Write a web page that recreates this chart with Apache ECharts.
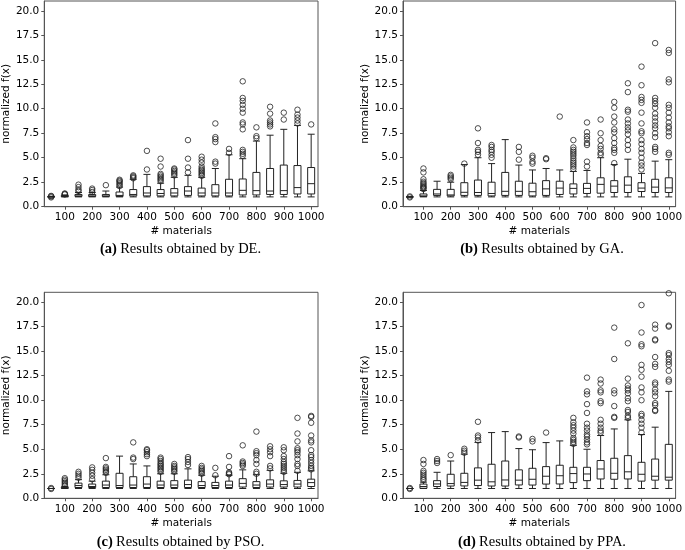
<!DOCTYPE html>
<html>
<head>
<meta charset="utf-8">
<script src="https://cdn.jsdelivr.net/npm/echarts@6/dist/echarts.min.js"></script>
<style>html,body{margin:0;padding:0;background:#fff}#c{width:685px;height:550px}</style>
</head>
<body>
<div id="c"></div>
<script>
const categories = ['50','100','150','200','250','300','350','400','450','500','550','600','650','700','750','800','850','900','950','1000'];
const yTicks = [0, 2.5, 5, 7.5, 10, 12.5, 15, 17.5, 20];

// [lower whisker, Q1, median, Q3, upper whisker]
const deBoxes = [
  [1.0,1.0,1.0,1.02,1.05],[1.0,1.03,1.08,1.15,1.2],[1.0,1.05,1.1,1.25,1.45],[1.0,1.05,1.1,1.25,1.45],
  [1.0,1.05,1.1,1.25,1.6],[1.0,1.05,1.15,1.5,2.0],[1.0,1.1,1.25,1.75,2.8],[1.0,1.1,1.4,2.05,3.3],
  [1.0,1.1,1.35,1.75,2.4],[1.0,1.1,1.4,1.85,3.0],[1.0,1.15,1.6,2.05,3.2],[1.0,1.1,1.4,1.9,3.0],
  [1.0,1.1,1.4,2.25,3.9],[1.0,1.1,1.4,2.8,5.3],[1.0,1.2,1.67,2.83,4.9],[1.0,1.2,1.64,3.5,6.7],
  [1.0,1.25,1.6,3.9,7.3],[1.0,1.25,1.64,4.25,7.9],[1.0,1.3,1.95,4.2,8.3],[1.0,1.3,2.35,4.0,7.4]
];
const deOutliers = [
  [0.95,1.05,1.1],[1.25,1.3,1.35],[1.6,1.75,2.0,2.25],[1.5,1.7,1.85],[2.2],
  [2.1,2.25,2.4,2.55,2.65,2.75],[2.9,3.0,3.1,3.2],[3.8,5.7],[2.6,2.75,2.9,3.05,3.2,3.35,4.1,4.9],
  [3.2,3.35,3.5,3.65,3.8,3.9],[3.5,4.0,4.9,6.8],[3.15,3.3,3.45,3.6,3.75,3.9,4.1,4.5,4.8,5.1],
  [4.4,4.6,6.6,6.9,7.1,8.5],[5.5,5.9],[5.2,5.4,5.6,5.8,7.9,8.4,8.6,9.6,10.0,10.4,10.8,11.1,12.8],
  [7.0,7.2,8.1],[8.2,8.4,8.6,8.8,9.5,10.2],[8.9,9.6],[8.5,8.8,9.1,9.4,9.9],[8.4]
];

const gaBoxes = [
  [1.0,1.0,1.0,1.0,1.0],[1.0,1.05,1.1,1.3,1.65],[1.0,1.15,1.3,1.77,2.6],[1.0,1.1,1.2,1.77,2.5],
  [1.0,1.15,1.47,2.45,4.3],[1.0,1.15,1.45,2.72,5.0],[1.0,1.1,1.35,2.5,4.4],[1.0,1.15,1.57,3.5,6.85],
  [1.0,1.15,1.57,2.6,4.25],[1.0,1.1,1.53,2.4,3.75],[1.0,1.15,1.82,2.66,3.9],[1.0,1.25,1.9,2.6,3.75],
  [1.0,1.3,1.87,2.33,3.6],[1.0,1.35,1.87,2.38,3.7],[1.0,1.38,2.28,2.95,5.0],[1.0,1.45,2.1,2.66,4.3],
  [1.0,1.45,2.2,3.05,4.85],[1.0,1.55,1.9,2.45,3.4],[1.0,1.45,2.0,2.8,4.65],[1.0,1.45,1.92,2.95,4.8]
];
const gaOutliers = [
  [0.95,1.05],[1.8,1.9,2.0,2.1,2.25,2.4,2.55,2.8,3.5,3.9],[],[2.8,2.95,3.1,3.25],[4.4],
  [5.3,5.6,5.8,6.5,8.0],[5.0,5.3,5.6,5.8,6.1,6.3],[],[4.8,5.6,6.1],[4.4,4.6,5.0,5.2],[4.85,4.95],[9.2],
  [3.85,4.1,4.3,4.5,4.7,4.95,5.2,5.4,5.6,5.8,6.05,6.8],[4.1,4.6,6.3,6.5,6.9,7.2,7.6,8.6],
  [5.3,5.5,5.9,6.2,6.8,7.5,8.9],[4.45,5.5,5.8,6.0,6.5,7.0,7.6,7.9,8.6,9.2,10.1,10.7],
  [5.8,6.3,6.8,7.4,7.8,8.1,8.5,8.9,9.7,9.9,11.7,12.6],
  [3.8,4.2,4.5,5.0,5.5,5.9,6.4,6.8,7.5,7.7,8.5,9.6,10.6,10.9,11.2,12.4,14.3],
  [5.6,5.9,6.1,7.1,7.5,8.0,8.3,8.7,9.1,9.5,10.1,10.5,10.8,11.1,16.7],
  [5.3,5.5,7.2,7.6,8.0,8.2,8.6,9.1,9.6,10.1,10.4,12.7,13.0,15.7,16.0]
];

const psoBoxes = [
  [1.0,1.0,1.0,1.0,1.0],[1.0,1.03,1.05,1.12,1.2],[1.0,1.1,1.3,1.55,1.9],[1.0,1.1,1.2,1.45,1.75],
  [1.0,1.1,1.35,1.75,2.4],[1.0,1.1,1.3,2.55,4.3],[1.0,1.1,1.35,2.2,3.5],[1.0,1.1,1.45,2.2,3.3],
  [1.0,1.1,1.35,1.75,2.5],[1.0,1.1,1.35,1.8,2.5],[1.0,1.1,1.4,1.85,3.0],[1.0,1.1,1.3,1.7,2.35],
  [1.0,1.1,1.3,1.62,2.25],[1.0,1.1,1.35,1.75,2.35],[1.0,1.15,1.52,2.0,2.9],[1.0,1.1,1.35,1.7,2.4],
  [1.0,1.15,1.45,1.88,2.85],[1.0,1.15,1.4,1.78,2.55],[1.0,1.15,1.45,1.82,2.65],[1.0,1.2,1.6,1.95,2.8]
];
const psoOutliers = [
  [0.95,1.05],[1.3,1.45,1.6,1.75,1.9,2.05],[2.1,2.3,2.5,2.7],[1.95,2.3,2.6,2.9,3.15],
  [2.6,2.75,2.9,3.05,3.2,4.1],[],[4.0,4.15,5.7],[4.3,4.5,4.7,4.9,5.0],
  [2.7,2.85,3.0,3.15,3.3,3.45,3.6,3.8,4.0,4.15],[2.7,2.85,3.0,3.15,3.3,3.5],[3.4,3.7,4.0,4.2],
  [2.5,2.65,2.8,2.95,3.1,3.3],[2.35,3.1],[2.45,2.55,2.65,3.2,4.3],[3.3,3.45,3.6,3.75,5.4],
  [2.5,2.7,3.5,3.9,4.4,4.6,4.8,6.8],[3.05,3.3,4.3,4.7,5.0,5.3],
  [2.7,2.9,3.1,3.3,3.5,3.7,4.0,4.3,4.9,5.2],[2.8,3.3,3.5,4.0,4.4,4.7,4.9,5.1,5.8,6.6,8.2],
  [2.95,3.1,3.3,3.6,3.9,4.2,4.4,4.9,5.7,5.9,6.4,7.7,8.3,8.4]
];

const ppaBoxes = [
  [1.0,1.0,1.0,1.0,1.0],[1.0,1.02,1.2,1.45,1.65],[1.0,1.2,1.46,1.8,2.65],[1.0,1.25,1.5,2.45,3.8],
  [1.0,1.26,1.62,2.55,4.5],[1.0,1.3,1.85,3.1,5.7],[1.0,1.25,1.68,3.47,6.7],[1.0,1.25,1.87,3.8,6.8],
  [1.0,1.36,1.85,2.9,5.07],[1.0,1.35,1.94,3.06,4.95],[1.0,1.45,2.25,3.23,5.68],[1.0,1.46,2.3,3.37,5.85],
  [1.0,1.6,2.52,3.16,5.4],[1.0,1.8,2.48,3.16,5.0],[1.0,1.97,2.99,3.85,6.4],[1.0,1.94,2.55,4.08,7.07],
  [1.0,1.97,2.7,4.35,8.0],[1.0,1.75,2.45,3.67,6.5],[1.0,1.85,2.25,4.0,7.25],[1.0,1.85,2.15,5.5,10.9]
];
const ppaOutliers = [
  [0.95,1.05],[1.85,2.0,2.2,2.4,2.6,2.8,3.5,3.9],[3.6,3.8,4.0],[4.4],[4.65,4.85,5.05],
  [5.9,6.2,6.4,7.8],[],[],[6.2,6.3],[5.8,6.05],[6.7],[],
  [5.55,5.75,5.95,6.15,6.6,6.9,7.2,7.45,7.75,8.2],
  [5.5,5.7,6.0,6.3,6.5,6.9,7.2,7.6,8.7,9.6,10.6,10.9,12.3],
  [6.7,6.9,7.2,7.6,8.0,9.7,9.9,10.8,11.0,11.7,12.1],
  [8.2,8.3,9.4,10.7,11.0,14.2,17.4],
  [8.2,8.4,8.8,9.0,9.9,10.2,10.7,11.0,11.2,11.5,12.2,15.8],
  [6.7,7.2,7.6,8.0,8.4,8.6,10.0,10.8,11.3,12.4,13.1,13.6,15.5,15.7,16.9,19.7],
  [8.9,9.0,9.5,9.7,10.4,10.8,11.1,11.6,11.8,13.4,13.7,14.4,16.1,16.2,17.3,17.7],
  [11.9,12.1,13.0,13.6,13.9,14.2,14.6,14.8,17.5,17.6,20.9]
];

const captions = [
  ['(a)', 'Results obtained by DE.'],
  ['(b)', 'Results obtained by GA.'],
  ['(c)', 'Results obtained by PSO.'],
  ['(d)', 'Results obtained by PPA.']
];

const panels = [
  {boxes: deBoxes, outliers: deOutliers, grid: {left: 43, top: 1, width: 275, height: 205.7}},
  {boxes: gaBoxes, outliers: gaOutliers, grid: {left: 403, top: 1, width: 278, height: 205.7}},
  {boxes: psoBoxes, outliers: psoOutliers, grid: {left: 43, top: 292.3, width: 275, height: 206}},
  {boxes: ppaBoxes, outliers: ppaOutliers, grid: {left: 403, top: 292.3, width: 278, height: 206}}
];

const FONT = 'DejaVu Sans';
const AX = '#555';
const grids = [], xAxes = [], yAxes = [], series = [], graphics = [];
const oddOnly = (i) => i % 2 === 1;

panels.forEach((p, k) => {
  grids.push(Object.assign({show: true, borderColor: AX, borderWidth: 1, backgroundColor: '#fff'}, p.grid));
  xAxes.push({
    type: 'category', gridIndex: k, data: categories, boundaryGap: true,
    name: '# materials', nameLocation: 'middle', nameGap: 19,
    nameTextStyle: {fontFamily: FONT, fontSize: 10.5, color: '#000'},
    axisLine: {show: true, lineStyle: {color: AX, width: 1}},
    axisTick: {show: true, alignWithLabel: true, interval: oddOnly, length: 3, lineStyle: {color: AX}},
    axisLabel: {interval: oddOnly, margin: 5, fontFamily: FONT, fontSize: 10.5, color: '#000'},
    splitLine: {show: false}
  });
  yAxes.push({
    type: 'value', gridIndex: k, min: 0, max: 21, interval: 2.5,
    name: 'normalized f(x)', nameLocation: 'middle', nameGap: 32,
    nameTextStyle: {fontFamily: FONT, fontSize: 10.5, color: '#000'},
    axisLine: {show: true, lineStyle: {color: AX, width: 1}},
    axisTick: {show: true, length: 3, lineStyle: {color: AX}, customValues: yTicks},
    axisLabel: {margin: 5, fontFamily: FONT, fontSize: 10.5, color: '#000',
      customValues: yTicks, formatter: (v) => Number(v).toFixed(1)},
    splitLine: {show: false}
  });
  series.push({
    type: 'boxplot', xAxisIndex: k, yAxisIndex: k, data: p.boxes,
    boxWidth: [7, 7],
    itemStyle: {color: '#fff', borderColor: '#222', borderWidth: 1},
    emphasis: {disabled: true}, silent: true
  });
  const pts = [];
  p.outliers.forEach((list, i) => list.forEach((v) => pts.push([i, v])));
  series.push({
    type: 'scatter', xAxisIndex: k, yAxisIndex: k, data: pts,
    symbol: 'circle', symbolSize: 5.5,
    itemStyle: {color: 'rgba(255,255,255,0)', borderColor: '#222', borderWidth: 0.8, opacity: 1},
    emphasis: {disabled: true}, silent: true, z: 3
  });
  const cx = p.grid.left + p.grid.width / 2;
  const cy = k < 2 ? 249 : 542;
  graphics.push({
    type: 'text', x: cx, y: cy,
    style: {
      text: '{b|' + captions[k][0] + '} {r|' + captions[k][1] + '}',
      align: 'center', verticalAlign: 'middle',
      rich: {
        b: {fontFamily: 'Liberation Serif', fontSize: 14.5, fontWeight: 'bold', fill: '#000'},
        r: {fontFamily: 'Liberation Serif', fontSize: 14.5, fill: '#000'}
      }
    }
  });
});

const chart = echarts.init(document.getElementById('c'), null, {renderer: 'canvas'});
chart.setOption({
  animation: false,
  backgroundColor: '#fff',
  grid: grids, xAxis: xAxes, yAxis: yAxes, series: series, graphic: graphics
});
</script>
</body>
</html>
